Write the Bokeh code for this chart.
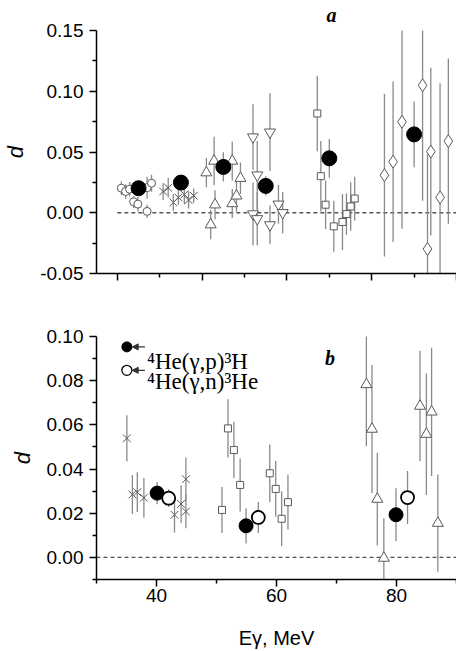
from bokeh.plotting import figure
from bokeh.layouts import column
from bokeh.models import (Range1d, FixedTicker, PrintfTickFormatter, Label,
                          Arrow, NormalHead)
from bokeh.embed import file_html
from bokeh.resources import INLINE

# ---------------- panel a ----------------
# filled circles: this work
a_bh_x = [32.5, 37.5, 42.5, 47.5, 55.0, 65.0]
a_bh_d = [0.0202, 0.0248, 0.0377, 0.0221, 0.0448, 0.0645]
a_bh_e = [0.005, 0.005, 0.012, 0.008, 0.016, 0.027]

# open circles
a_oc_x = [30.47, 30.98, 31.45, 31.92, 32.42, 33.51, 34.03, 33.51]
a_oc_d = [0.0202, 0.0175, 0.0194, 0.0090, 0.0071, 0.0207, 0.0243, 0.0011]
a_oc_e = [0.0055, 0.006, 0.006, 0.005, 0.006, 0.009, 0.007, 0.0055]

# crosses
a_x_x = [35.4, 36.0, 36.6, 37.2, 37.9, 38.4, 39.0]
a_x_d = [0.0175, 0.0205, 0.0085, 0.0125, 0.0150, 0.0105, 0.0140]
a_x_e = [0.007, 0.008, 0.007, 0.006, 0.008, 0.007, 0.006]

# up triangles
a_tu_x = [40.50, 41.41, 41.52, 41.01, 43.55, 43.55, 44.05, 44.52]
a_tu_d = [0.0330, 0.0426, 0.0066, -0.0098, 0.0426, 0.0076, 0.0139, 0.0284]
a_tu_e = [0.012, 0.020, 0.012, 0.012, 0.016, 0.012, 0.013, 0.013]

# down triangles
a_td_x = [46.0, 46.5, 46.0, 46.5, 48.0, 48.0, 49.0, 49.5]
a_td_d = [0.0623, 0.0310, -0.0010, -0.0050, 0.0663, -0.0100, 0.0070, 0.0000]
a_td_e = [0.027, 0.028, 0.026, 0.022, 0.032, 0.016, 0.016, 0.017]

# squares
a_sq_x = [53.58, 54.00, 54.56, 55.53, 56.55, 57.02, 57.52, 57.99]
a_sq_d = [0.0817, 0.0301, 0.0066, -0.0112, -0.0076, -0.0011, 0.0052, 0.0117]
a_sq_e = [0.031, 0.029, 0.020, 0.021, 0.023, 0.017, 0.020, 0.018]

# diamonds
a_dm_x = [61.5, 62.52, 63.57, 66.0, 66.97, 66.58, 68.06, 69.04]
a_dm_d = [0.0309, 0.0420, 0.0748, 0.1049, 0.0503, -0.0298, 0.0126, 0.0590]
a_dm_e = [0.067, 0.066, 0.088, 0.095, 0.069, 0.078, 0.094, 0.068]

# ---------------- panel b ----------------
# filled circles: 4He(g,p)3H
b_p_x = [40.1, 54.93, 79.92]
b_p_d = [0.0291, 0.0143, 0.0193]
b_p_e = [0.005, 0.008, 0.012]

# open circles: 4He(g,n)3He
b_n_x = [42.03, 56.97, 81.84]
b_n_d = [0.0268, 0.0181, 0.0271]
b_n_e = [0.004, 0.007, 0.012]

# crosses
b_x_x = [35.06, 35.98, 36.8, 37.9, 43.0, 44.1, 44.9, 44.9]
b_x_d = [0.0539, 0.0285, 0.0295, 0.0270, 0.0193, 0.0242, 0.0208, 0.0354]
b_x_e = [0.0105, 0.0088, 0.009, 0.009, 0.008, 0.0085, 0.0076, 0.0098]

# squares
b_sq_x = [50.92, 51.91, 52.9, 53.94, 58.88, 59.87, 60.86, 61.91]
b_sq_d = [0.0215, 0.0584, 0.0486, 0.0328, 0.0381, 0.0310, 0.0175, 0.0250]
b_sq_e = [0.0104, 0.0132, 0.0128, 0.012, 0.013, 0.0126, 0.0124, 0.0124]

# up triangles
b_tu_x = [74.98, 75.91, 76.8, 77.89, 83.92, 84.98, 85.85, 86.89]
b_tu_d = [0.0783, 0.0581, 0.0264, -0.0003, 0.0685, 0.0558, 0.0659, 0.0155]
b_tu_e = [0.028, 0.029, 0.021, 0.018, 0.025, 0.0275, 0.029, 0.022]

# key texts
key_labels = ["\u2074He(\u03b3,p)\u00b3H", "\u2074He(\u03b3,n)\u00b3He"]

# axis ticks
a_y_major = [-0.05, 0.0, 0.05, 0.10, 0.15]
a_y_minor = [-0.025, 0.025, 0.075, 0.125]
a_x_major = [30, 40, 50, 60, 70]
a_x_minor = [35, 45, 55, 65]
b_y_major = [0.0, 0.02, 0.04, 0.06, 0.08, 0.10]
b_y_minor = [-0.01, 0.01, 0.03, 0.05, 0.07, 0.09]
b_x_major = [40, 60, 80]
b_x_minor = [30, 50, 70, 90]

SANS = "Liberation Sans"
SERIF = "Liberation Serif"
MARK = "#5a5a5a"
BAR = "#8a8a8a"


def style_axes(p):
    for ax in (p.xaxis[0], p.yaxis[0]):
        ax.axis_line_width = 1.5
        ax.axis_line_color = "black"
        ax.major_tick_line_width = 1.5
        ax.minor_tick_line_width = 1.5
        ax.major_tick_out = 7
        ax.major_tick_in = 0
        ax.minor_tick_out = 4
        ax.minor_tick_in = 0
        ax.major_label_text_font = SANS
        ax.major_label_text_font_size = "19px"
        ax.major_label_text_color = "black"
    p.yaxis[0].major_label_standoff = 6
    p.yaxis[0].axis_label = "d"
    p.yaxis[0].axis_label_text_font = SANS
    p.yaxis[0].axis_label_text_font_style = "italic"
    p.yaxis[0].axis_label_text_font_size = "22px"
    p.yaxis[0].axis_label_text_color = "black"
    p.yaxis[0].axis_label_standoff = 9
    p.xgrid.visible = False
    p.ygrid.visible = False
    p.outline_line_color = None


def errbars(p, x, d, e):
    lo = [a - b for a, b in zip(d, e)]
    hi = [a + b for a, b in zip(d, e)]
    p.segment(x0=x, y0=lo, x1=x, y1=hi, line_color=BAR, line_width=1.3)


def zero_line(p, x0, x1):
    p.line(x=[x0, x1], y=[0, 0], line_color="#555555", line_width=1.3,
           line_dash="4 3")


# ---------------- figure a ----------------
pa = figure(width=456, height=300, output_backend="svg", toolbar_location=None,
            x_range=Range1d(27.54, 70.0), y_range=Range1d(-0.05, 0.15),
            min_border_left=93, min_border_right=0, min_border_top=29,
            min_border_bottom=27, title="a")
pa.title.text_font = SERIF
pa.title.text_font_style = "bold italic"
pa.title.text_font_size = "20px"
pa.title.text_color = "black"
pa.title.align = "left"
pa.title.vertical_align = "top"
pa.title.offset = 230
pa.title.standoff = 6
style_axes(pa)
pa.xaxis.ticker = FixedTicker(ticks=a_x_major, minor_ticks=a_x_minor)
pa.xaxis.major_label_overrides = {t: "" for t in a_x_major}
pa.yaxis.ticker = FixedTicker(ticks=a_y_major, minor_ticks=a_y_minor)
pa.yaxis.formatter = PrintfTickFormatter(format="%.2f")

zero_line(pa, 30, 70)
for xs, ds, es in [(a_oc_x, a_oc_d, a_oc_e), (a_x_x, a_x_d, a_x_e),
                   (a_tu_x, a_tu_d, a_tu_e), (a_td_x, a_td_d, a_td_e),
                   (a_sq_x, a_sq_d, a_sq_e), (a_dm_x, a_dm_d, a_dm_e),
                   (a_bh_x, a_bh_d, a_bh_e)]:
    errbars(pa, xs, ds, es)

pa.scatter(a_oc_x, a_oc_d, marker="circle", size=8, fill_color="white",
           line_color=MARK, line_width=1)
pa.scatter(a_x_x, a_x_d, marker="x", size=11, line_color=MARK, line_width=1)
pa.scatter(a_tu_x, a_tu_d, marker="triangle", size=11, fill_color="white",
           line_color=MARK, line_width=1)
pa.scatter(a_td_x, a_td_d, marker="inverted_triangle", size=11,
           fill_color="white", line_color=MARK, line_width=1)
pa.scatter(a_sq_x, a_sq_d, marker="square", size=7, fill_color="white",
           line_color=MARK, line_width=1)
pa.scatter(a_dm_x, a_dm_d, marker="diamond", size=13, fill_color="white",
           line_color=MARK, line_width=1)
pa.scatter(a_bh_x, a_bh_d, marker="circle", size=15, fill_color="black",
           line_color="black")

# ---------------- figure b ----------------
pb = figure(width=456, height=351, output_backend="svg", toolbar_location=None,
            x_range=Range1d(30, 90), y_range=Range1d(-0.01, 0.10),
            min_border_left=92, min_border_right=0, min_border_top=36,
            min_border_bottom=71, title=None)
style_axes(pb)
pb.xaxis.ticker = FixedTicker(ticks=b_x_major, minor_ticks=b_x_minor)
pb.xaxis.major_label_standoff = 2
pb.xaxis.axis_label = "E\u03b3, MeV"
pb.xaxis.axis_label_text_font = SANS
pb.xaxis.axis_label_text_font_style = "normal"
pb.xaxis.axis_label_text_font_size = "20px"
pb.xaxis.axis_label_text_color = "black"
pb.xaxis.axis_label_standoff = 22
pb.yaxis.ticker = FixedTicker(ticks=b_y_major, minor_ticks=b_y_minor)
pb.yaxis.formatter = PrintfTickFormatter(format="%.2f")

zero_line(pb, 30, 90)
for xs, ds, es in [(b_x_x, b_x_d, b_x_e), (b_sq_x, b_sq_d, b_sq_e),
                   (b_tu_x, b_tu_d, b_tu_e), (b_p_x, b_p_d, b_p_e),
                   (b_n_x, b_n_d, b_n_e)]:
    errbars(pb, xs, ds, es)

pb.scatter(b_x_x, b_x_d, marker="x", size=11, line_color=MARK, line_width=1)
pb.scatter(b_sq_x, b_sq_d, marker="square", size=7, fill_color="white",
           line_color=MARK, line_width=1)
pb.scatter(b_tu_x, b_tu_d, marker="triangle", size=11, fill_color="white",
           line_color=MARK, line_width=1)
pb.scatter(b_p_x, b_p_d, marker="circle", size=14, fill_color="black",
           line_color="black")
pb.scatter(b_n_x, b_n_d, marker="circle", size=13, fill_color="white",
           line_color="black", line_width=1.8)

# key: symbol, arrow pointing at it, reaction text
key_x = 35.06
key_y = [0.0953, 0.0847]
key_text_y = [0.0886, 0.0795]
pb.scatter([key_x], [key_y[0]], marker="circle", size=10, fill_color="black",
           line_color="black")
pb.scatter([key_x], [key_y[1]], marker="circle", size=10, fill_color="white",
           line_color="black", line_width=1.3)
for ky, ty, txt in zip(key_y, key_text_y, key_labels):
    pb.add_layout(Arrow(end=NormalHead(size=6, fill_color="#333333",
                                       line_color="#333333"),
                        x_start=38.07, y_start=ky, x_end=35.95, y_end=ky,
                        line_color="#333333", line_width=1.2))
    pb.add_layout(Label(x=38.4, y=ty, text=txt, text_font=SERIF,
                        text_font_size="23px", text_baseline="alphabetic",
                        text_align="left", text_color="black"))

pb.add_layout(Label(x=68.9, y=0.0902, text="b", text_font=SERIF,
                    text_font_style="bold italic", text_font_size="20px",
                    text_align="center", text_baseline="middle",
                    text_color="black"))

layout = column(pa, pb, spacing=0)
open("out.html", "w").write(file_html(layout, INLINE))
